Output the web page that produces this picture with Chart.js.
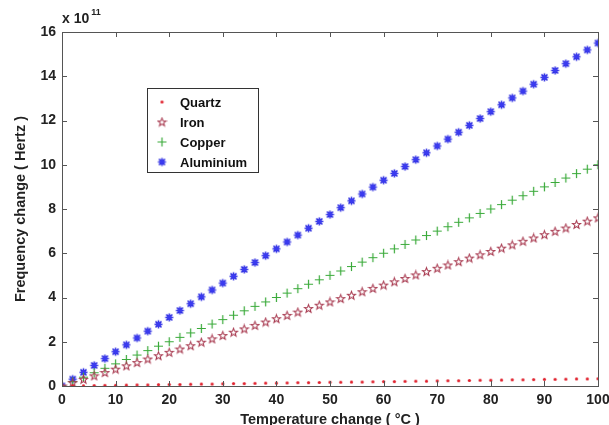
<!DOCTYPE html>
<html><head><meta charset="utf-8">
<script src="https://cdn.jsdelivr.net/npm/chart.js@4"></script>
<style>html,body{margin:0;padding:0;background:#fff}#w{width:609px;height:425px}</style>
</head><body><div id="w"><canvas id="c"></canvas></div>
<script>
const temperatures = [0,2,4,6,8,10,12,14,16,18,20,22,24,26,28,30,32,34,36,38,40,42,44,46,48,50,52,54,56,58,60,62,64,66,68,70,72,74,76,78,80,82,84,86,88,90,92,94,96,98,100];
const quartz = [0,0.01,0.01,0.02,0.03,0.03,0.04,0.05,0.05,0.06,0.07,0.07,0.08,0.09,0.09,0.10,0.11,0.11,0.12,0.13,0.13,0.14,0.15,0.15,0.16,0.17,0.17,0.18,0.18,0.19,0.20,0.20,0.21,0.22,0.22,0.23,0.24,0.24,0.25,0.26,0.26,0.27,0.28,0.28,0.29,0.30,0.30,0.31,0.32,0.32,0.33];
const iron = [0,0.15,0.30,0.46,0.61,0.76,0.91,1.06,1.22,1.37,1.52,1.67,1.82,1.98,2.13,2.28,2.43,2.58,2.74,2.89,3.04,3.19,3.34,3.50,3.65,3.80,3.95,4.10,4.26,4.41,4.56,4.71,4.86,5.02,5.17,5.32,5.47,5.62,5.78,5.93,6.08,6.23,6.38,6.54,6.69,6.84,6.99,7.14,7.30,7.45,7.60];
const copper = [0,0.2,0.4,0.6,0.8,1.0,1.2,1.4,1.6,1.8,2.0,2.2,2.4,2.6,2.8,3.0,3.2,3.4,3.6,3.8,4.0,4.2,4.4,4.6,4.8,5.0,5.2,5.4,5.6,5.8,6.0,6.2,6.4,6.6,6.8,7.0,7.2,7.4,7.6,7.8,8.0,8.2,8.4,8.6,8.8,9.0,9.2,9.4,9.6,9.8,10.0];
const aluminium = [0,0.31,0.62,0.93,1.24,1.55,1.86,2.17,2.48,2.79,3.10,3.41,3.72,4.03,4.34,4.65,4.96,5.27,5.58,5.89,6.20,6.51,6.82,7.13,7.44,7.75,8.06,8.37,8.68,8.99,9.30,9.61,9.92,10.23,10.54,10.85,11.16,11.47,11.78,12.09,12.40,12.71,13.02,13.33,13.64,13.95,14.26,14.57,14.88,15.19,15.50];
const seriesNames = ['Quartz','Iron','Copper','Aluminium'];
const xTicks = [0,10,20,30,40,50,60,70,80,90,100];
const yTicks = [0,2,4,6,8,10,12,14,16];

function mk(size, draw){const c=document.createElement('canvas');c.width=size;c.height=size;const g=c.getContext('2d');draw(g,size/2);return c;}
const mQuartz = mk(5,(g,h)=>{g.fillStyle='#e0202c';g.beginPath();g.arc(h,h,1.6,0,Math.PI*2);g.fill();});
const mIron = mk(11,(g,h)=>{g.strokeStyle='#a83a50';g.lineWidth=1.1;g.beginPath();
  for(let i=0;i<10;i++){const r=i%2?1.8:4.2;const a=-Math.PI/2+i*Math.PI/5;const x=h+r*Math.cos(a),y=h+0.3+r*Math.sin(a);i?g.lineTo(x,y):g.moveTo(x,y);}g.closePath();g.stroke();});
const mCopper = mk(11,(g,h)=>{g.strokeStyle='#3aaa3a';g.lineWidth=1.2;g.beginPath();g.moveTo(h,h-4.5);g.lineTo(h,h+4.5);g.moveTo(h-4.5,h);g.lineTo(h+4.5,h);g.stroke();});
const mAlu = mk(11,(g,h)=>{g.strokeStyle='#2a2ae0';g.fillStyle='#3a3af0';g.lineWidth=1.6;g.beginPath();g.moveTo(h,h-4);g.lineTo(h,h+4);g.moveTo(h-4,h);g.lineTo(h+4,h);g.moveTo(h-3,h-3);g.lineTo(h+3,h+3);g.moveTo(h-3,h+3);g.lineTo(h+3,h-3);g.stroke();
  g.beginPath();g.moveTo(h,h-3);g.lineTo(h+3,h);g.lineTo(h,h+3);g.lineTo(h-3,h);g.closePath();g.fill();});
const markers=[mQuartz,mIron,mCopper,mAlu];
const seriesData=[quartz,iron,copper,aluminium];

const FONT='"Liberation Sans", Arial, sans-serif';
const AX='#555';

const boxPlugin={id:'box',afterDatasetsDraw(chart){
  const {ctx,chartArea:a,scales:{x,y}}=chart;ctx.save();
  ctx.strokeStyle=AX;ctx.lineWidth=1;
  ctx.strokeRect(a.left+0.5,a.top+0.5,a.right-a.left,a.bottom-a.top);
  ctx.beginPath();
  x.ticks.forEach(t=>{const px=Math.round(x.getPixelForValue(t.value))+0.5;ctx.moveTo(px,a.bottom);ctx.lineTo(px,a.bottom-5);ctx.moveTo(px,a.top);ctx.lineTo(px,a.top+5);});
  y.ticks.forEach(t=>{const py=Math.round(y.getPixelForValue(t.value))+0.5;ctx.moveTo(a.left,py);ctx.lineTo(a.left+5,py);ctx.moveTo(a.right,py);ctx.lineTo(a.right-5,py);});
  ctx.stroke();
  // exponent label
  ctx.fillStyle='#222';ctx.font='bold 14px '+FONT;ctx.textBaseline='alphabetic';ctx.textAlign='left';
  ctx.fillText('x 10',a.left+0,a.top-9);
  const w=ctx.measureText('x 10').width;ctx.font='bold 9px '+FONT;ctx.fillText('11',a.left+w+2,a.top-17);
  // legend
  const lx=147,ly=88,lw=111,lh=84;
  ctx.fillStyle='#fff';ctx.fillRect(lx,ly,lw,lh);ctx.strokeStyle='#333';ctx.strokeRect(lx+0.5,ly+0.5,lw,lh);
  ctx.font='bold 13px '+FONT;ctx.fillStyle='#111';ctx.textBaseline='middle';
  chart.data.datasets.forEach((d,i)=>{const yy=ly+14+i*20;const m=d.pointStyle;ctx.drawImage(m,162-m.width/2,yy-m.height/2);ctx.fillText(d.label,180,yy+1);});
  ctx.restore();}};

new Chart(document.getElementById('c'),{
  type:'scatter',
  data:{datasets:seriesNames.map((n,i)=>({label:n,data:temperatures.map((t,j)=>({x:t,y:seriesData[i][j]})),pointStyle:markers[i],showLine:false}))},
  options:{responsive:true,maintainAspectRatio:false,animation:false,devicePixelRatio:1,
    layout:{padding:{top:32,right:11,left:0,bottom:0}},
    plugins:{legend:{display:false},tooltip:{enabled:false}},
    scales:{
      x:{type:'linear',min:0,max:100,afterBuildTicks(s){s.ticks=xTicks.map(v=>({value:v}));},
        grid:{display:false,drawTicks:false},border:{display:false},
        ticks:{color:'#222',font:{family:FONT,size:14,weight:'bold'},padding:6,maxRotation:0},
        title:{display:true,text:'Temperature change ( °C )',color:'#222',font:{family:FONT,size:14.5,weight:'bold'},padding:{top:4,bottom:-4}},
        afterFit(s){s.height=39;s.paddingLeft=0;s.paddingRight=0;}},
      y:{type:'linear',min:0,max:16,afterBuildTicks(s){s.ticks=yTicks.map(v=>({value:v}));},
        grid:{display:false,drawTicks:false},border:{display:false},
        ticks:{color:'#222',font:{family:FONT,size:14,weight:'bold'},padding:6},
        title:{display:true,text:'Frequency change ( Hertz )',color:'#222',font:{family:FONT,size:14.5,weight:'bold'},padding:{top:12,bottom:0}},
        afterFit(s){s.width=62;s.paddingTop=0;s.paddingBottom=0;}}
    }},
  plugins:[boxPlugin]
});
</script></body></html>
